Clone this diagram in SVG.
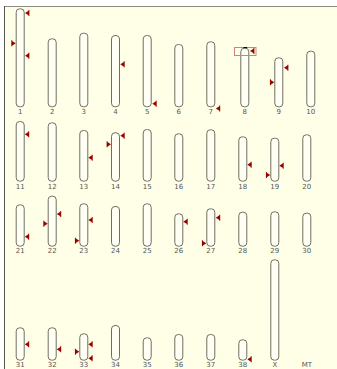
<svg xmlns="http://www.w3.org/2000/svg" xmlns:xlink="http://www.w3.org/1999/xlink" width="337" height="369" viewBox="0 0 337 369">
<style>
.chr{fill:#fffff4;stroke:#6e6e60;stroke-width:1}
.lbl{font-family:"DejaVu Sans",sans-serif;font-size:7px;fill:#555;text-anchor:middle}
.mk{fill:#9b0000}
</style>
<defs>
<path id="mL" class="mk" d="M0,0 L4,-2.6 L4,2.6 Z M3.4,-3 h1 v6 h-1 Z"/>
<path id="mR" class="mk" d="M0,0 L-4,-2.6 L-4,2.6 Z M-3.4,-3 h-1 v6 h1 Z"/>
</defs>
<rect x="0" y="0" width="337" height="369" fill="#ffffff"/>
<rect x="4" y="6" width="333" height="363" fill="#ffffe8"/>
<line x1="4" y1="6.5" x2="337" y2="6.5" stroke="#8a8a80" stroke-width="1"/>
<line x1="4.5" y1="6" x2="4.5" y2="369" stroke="#555" stroke-width="1"/>

<g id="chr1"><rect class="chr" x="16.2" y="8.8" width="8" height="98" rx="3.5"/><text class="lbl" x="20.2" y="114">1</text></g>
<g id="chr2"><rect class="chr" x="48.2" y="38.8" width="8" height="68" rx="3.5"/><text class="lbl" x="52.2" y="114">2</text></g>
<g id="chr3"><rect class="chr" x="79.8" y="33.2" width="8" height="73.6" rx="3.5"/><text class="lbl" x="83.8" y="114">3</text></g>
<g id="chr4"><rect class="chr" x="111.5" y="35.5" width="8" height="71.3" rx="3.5"/><text class="lbl" x="115.5" y="114">4</text></g>
<g id="chr5"><rect class="chr" x="143.2" y="35.5" width="8" height="71.3" rx="3.5"/><text class="lbl" x="147.2" y="114">5</text></g>
<g id="chr6"><rect class="chr" x="174.8" y="44.5" width="8" height="62.3" rx="3.5"/><text class="lbl" x="178.8" y="114">6</text></g>
<g id="chr7"><rect class="chr" x="206.8" y="41.8" width="8" height="65" rx="3.5"/><text class="lbl" x="210.8" y="114">7</text></g>
<g id="chr8"><rect class="chr" x="240.8" y="48.2" width="8" height="58.6" rx="3.5"/><text class="lbl" x="244.8" y="114">8</text></g>
<g id="chr9"><rect class="chr" x="274.8" y="57.8" width="8" height="49" rx="3.5"/><text class="lbl" x="278.8" y="114">9</text></g>
<g id="chr10"><rect class="chr" x="306.8" y="51.2" width="8" height="55.6" rx="3.5"/><text class="lbl" x="310.8" y="114">10</text></g>

<g id="chr11"><rect class="chr" x="16.2" y="121.5" width="8" height="59.7" rx="3.5"/><text class="lbl" x="20.2" y="188.5">11</text></g>
<g id="chr12"><rect class="chr" x="48.2" y="122.8" width="8" height="58.4" rx="3.5"/><text class="lbl" x="52.2" y="188.5">12</text></g>
<g id="chr13"><rect class="chr" x="79.8" y="130.5" width="8" height="50.7" rx="3.5"/><text class="lbl" x="83.8" y="188.5">13</text></g>
<g id="chr14"><rect class="chr" x="111.5" y="132.8" width="8" height="48.4" rx="3.5"/><text class="lbl" x="115.5" y="188.5">14</text></g>
<g id="chr15"><rect class="chr" x="143.2" y="129.5" width="8" height="51.7" rx="3.5"/><text class="lbl" x="147.2" y="188.5">15</text></g>
<g id="chr16"><rect class="chr" x="174.8" y="133.8" width="8" height="47.4" rx="3.5"/><text class="lbl" x="178.8" y="188.5">16</text></g>
<g id="chr17"><rect class="chr" x="206.8" y="129.8" width="8" height="51.4" rx="3.5"/><text class="lbl" x="210.8" y="188.5">17</text></g>
<g id="chr18"><rect class="chr" x="238.8" y="136.8" width="8" height="44.4" rx="3.5"/><text class="lbl" x="242.8" y="188.5">18</text></g>
<g id="chr19"><rect class="chr" x="270.8" y="138.2" width="8" height="43" rx="3.5"/><text class="lbl" x="274.8" y="188.5">19</text></g>
<g id="chr20"><rect class="chr" x="302.8" y="134.8" width="8" height="46.4" rx="3.5"/><text class="lbl" x="306.8" y="188.5">20</text></g>

<g id="chr21"><rect class="chr" x="16.2" y="204.8" width="8" height="41.4" rx="3.5"/><text class="lbl" x="20.2" y="252.5">21</text></g>
<g id="chr22"><rect class="chr" x="48.2" y="196.2" width="8" height="50" rx="3.5"/><text class="lbl" x="52.2" y="252.5">22</text></g>
<g id="chr23"><rect class="chr" x="79.8" y="203.8" width="8" height="42.4" rx="3.5"/><text class="lbl" x="83.8" y="252.5">23</text></g>
<g id="chr24"><rect class="chr" x="111.5" y="206.5" width="8" height="39.7" rx="3.5"/><text class="lbl" x="115.5" y="252.5">24</text></g>
<g id="chr25"><rect class="chr" x="143.2" y="203.8" width="8" height="42.4" rx="3.5"/><text class="lbl" x="147.2" y="252.5">25</text></g>
<g id="chr26"><rect class="chr" x="174.8" y="213.8" width="8" height="32.4" rx="3.5"/><text class="lbl" x="178.8" y="252.5">26</text></g>
<g id="chr27"><rect class="chr" x="206.8" y="208.8" width="8" height="37.4" rx="3.5"/><text class="lbl" x="210.8" y="252.5">27</text></g>
<g id="chr28"><rect class="chr" x="238.8" y="212.2" width="8" height="34" rx="3.5"/><text class="lbl" x="242.8" y="252.5">28</text></g>
<g id="chr29"><rect class="chr" x="270.8" y="211.8" width="8" height="34.4" rx="3.5"/><text class="lbl" x="274.8" y="252.5">29</text></g>
<g id="chr30"><rect class="chr" x="302.8" y="213.2" width="8" height="33" rx="3.5"/><text class="lbl" x="306.8" y="252.5">30</text></g>

<g id="chr31"><rect class="chr" x="16.2" y="327.8" width="8" height="32.4" rx="3.5"/><text class="lbl" x="20.2" y="366.5">31</text></g>
<g id="chr32"><rect class="chr" x="48.2" y="327.8" width="8" height="32.4" rx="3.5"/><text class="lbl" x="52.2" y="366.5">32</text></g>
<g id="chr33"><rect class="chr" x="79.8" y="333.8" width="8" height="26.4" rx="3.5"/><text class="lbl" x="83.8" y="366.5">33</text></g>
<g id="chr34"><rect class="chr" x="111.5" y="325.5" width="8" height="34.7" rx="3.5"/><text class="lbl" x="115.5" y="366.5">34</text></g>
<g id="chr35"><rect class="chr" x="143.2" y="337.8" width="8" height="22.4" rx="3.5"/><text class="lbl" x="147.2" y="366.5">35</text></g>
<g id="chr36"><rect class="chr" x="174.8" y="334.5" width="8" height="25.7" rx="3.5"/><text class="lbl" x="178.8" y="366.5">36</text></g>
<g id="chr37"><rect class="chr" x="206.8" y="334.5" width="8" height="25.7" rx="3.5"/><text class="lbl" x="210.8" y="366.5">37</text></g>
<g id="chr38"><rect class="chr" x="238.8" y="339.8" width="8" height="20.4" rx="3.5"/><text class="lbl" x="242.8" y="366.5">38</text></g>
<g id="chrX"><rect class="chr" x="270.8" y="259.8" width="8" height="100.4" rx="3.5"/><text class="lbl" x="274.8" y="366.5">X</text></g>
<g id="chrMT"><text class="lbl" x="306.8" y="366.5">MT</text></g>

<g id="highlight">
<rect x="234.5" y="47.5" width="21.5" height="8" fill="none" stroke="#d08080" stroke-width="1"/>
<line x1="243.5" y1="47.6" x2="247" y2="47.6" stroke="#000" stroke-width="1.2"/>
</g>

<g id="markers">
<use xlink:href="#mL" x="25" y="13"/>
<use xlink:href="#mL" x="25" y="55.7"/>
<use xlink:href="#mR" x="15.7" y="43.3"/>
<use xlink:href="#mL" x="120.3" y="64.3"/>
<use xlink:href="#mL" x="152.3" y="103.7"/>
<use xlink:href="#mL" x="215.8" y="108.5"/>
<use xlink:href="#mL" x="250" y="51"/>
<use xlink:href="#mL" x="284" y="67.7"/>
<use xlink:href="#mR" x="274.3" y="82.3"/>

<use xlink:href="#mL" x="24.8" y="134.3"/>
<use xlink:href="#mL" x="88.3" y="157.7"/>
<use xlink:href="#mL" x="120.3" y="135.7"/>
<use xlink:href="#mR" x="111" y="144.3"/>
<use xlink:href="#mL" x="247.3" y="164.7"/>
<use xlink:href="#mL" x="279.3" y="165.7"/>
<use xlink:href="#mR" x="270.3" y="175"/>

<use xlink:href="#mL" x="24.8" y="236.7"/>
<use xlink:href="#mL" x="56.8" y="214"/>
<use xlink:href="#mR" x="47.7" y="223.7"/>
<use xlink:href="#mL" x="88.3" y="220"/>
<use xlink:href="#mR" x="79.3" y="240.7"/>
<use xlink:href="#mL" x="183.3" y="221.7"/>
<use xlink:href="#mL" x="215.8" y="217.7"/>
<use xlink:href="#mR" x="206.3" y="243.3"/>

<use xlink:href="#mL" x="24.8" y="344.3"/>
<use xlink:href="#mL" x="56.8" y="349.3"/>
<use xlink:href="#mL" x="88.3" y="344.3"/>
<use xlink:href="#mR" x="79.3" y="351.7"/>
<use xlink:href="#mL" x="88.3" y="358.3"/>
<use xlink:href="#mL" x="247.3" y="359.3"/>
</g>
</svg>
